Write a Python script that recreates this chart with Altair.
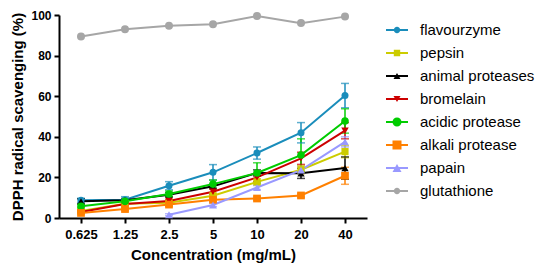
import math
import altair as alt
import pandas as pd

conc_labels = ["0.625", "1.25", "2.5", "5", "10", "20", "40"]
series_names = ["flavourzyme", "pepsin", "animal proteases", "bromelain",
                "acidic protease", "alkali protease", "papain", "glutathione"]

flavourzyme = [8.7, 9.0, 15.9, 22.5, 32.0, 42.0, 60.3]
flavourzyme_err = [1.0, 1.5, 2.0, 3.8, 3.0, 5.0, 6.0]
pepsin = [3.5, 7.0, 7.5, 11.0, 17.8, 23.8, 32.7]
pepsin_err = [0.5, 0.5, 0.8, 1.0, 1.5, 2.0, 3.0]
animal = [8.2, 8.8, 11.5, 15.6, 22.2, 22.0, 24.6]
animal_err = [1.2, 0.8, 1.0, 1.0, 1.5, 2.5, 5.5]
bromelain = [3.0, 6.9, 8.4, 12.9, 20.0, 29.4, 43.0]
bromelain_err = [0.5, 0.5, 0.8, 1.5, 2.0, 3.0, 4.0]
acidic = [5.8, 8.2, 11.8, 16.7, 22.2, 31.0, 47.8]
acidic_err = [0.8, 1.0, 1.5, 2.0, 5.0, 8.0, 6.0]
alkali = [2.5, 4.4, 6.6, 9.0, 9.6, 11.1, 20.8]
alkali_err = [0.5, 0.8, 0.8, 0.8, 0.8, 0.8, 4.2]
papain = [None, None, 1.6, 6.4, 15.0, 23.6, 37.5]
papain_err = [0, 0, 0.5, 0.8, 1.0, 1.5, 2.5]
glutathione = [89.4, 93.0, 94.7, 95.4, 99.5, 96.0, 99.2]
glutathione_err = [0, 0, 0, 0, 0, 0, 0]

colors = ["#1A8DBB", "#CCCC00", "#000000", "#CC0000",
          "#00CC00", "#FF8000", "#9999FF", "#A6A6A6"]
plot_shapes = ["circle", "square", "triangle-up", "triangle-down",
               "circle", "square", "triangle-up", "circle"]
plot_sizes = [49, 64, 49, 49, 100, 100, 100, 36]

values = [flavourzyme, pepsin, animal, bromelain, acidic, alkali, papain, glutathione]
errors = [flavourzyme_err, pepsin_err, animal_err, bromelain_err,
          acidic_err, alkali_err, papain_err, glutathione_err]

rows = []
for name, vals, errs in zip(series_names, values, errors):
    for c, v, e in zip(conc_labels, vals, errs):
        if v is None:
            continue
        rows.append({"series": name, "lg": name, "conc": c, "val": v,
                     "err": e, "lo": v - e, "hi": v + e})
df = pd.DataFrame(rows)

# legend glyphs: line segment + marker, in units of 11 px (symbol size 484)
U = 11.0
def rect_line():
    t = 1.0 / U
    return f"M-1,{-t:.4f}H1V{t:.4f}H-1Z"
def circ(r):
    r = r / U
    pts = []
    for i in range(16):
        a = 2 * math.pi * i / 16
        pts.append(f"{r*math.cos(a):.4f},{r*math.sin(a):.4f}")
    return "M" + "L".join(pts) + "Z"
def sq(h):
    h = h / U
    return f"M{-h:.4f},{-h:.4f}H{h:.4f}V{h:.4f}H{-h:.4f}Z"
def tri_up(w, h):
    a = w / 2 / U; b = h / 2 / U
    return f"M0,{-b:.4f}L{a:.4f},{b:.4f}L{-a:.4f},{b:.4f}Z"
def tri_down(w, h):
    a = w / 2 / U; b = h / 2 / U
    return f"M{-a:.4f},{-b:.4f}L{a:.4f},{-b:.4f}L0,{b:.4f}Z"

legend_paths = [
    rect_line() + circ(3.2),
    rect_line() + sq(3.2),
    rect_line() + tri_up(7, 6),
    rect_line() + tri_down(7, 6),
    rect_line() + circ(4.5),
    rect_line() + sq(4.5),
    rect_line() + tri_up(9, 8),
    rect_line() + circ(3.2),
]

FONT = "Liberation Sans"

x_enc = alt.X("conc:N", sort=conc_labels,
              scale=alt.Scale(type="point", padding=0.5),
              axis=alt.Axis(title="Concentration (mg/mL)", labelAngle=0))
y_scale = alt.Scale(domain=[0, 100], nice=False)
y_axis = alt.Axis(title="DPPH radical scavenging (%)", values=[0, 20, 40, 60, 80, 100],
                  titleX=-34, titleY=101.5, titleAngle=-90, titleAlign="center",
                  titleBaseline="bottom")
col_scale = alt.Scale(domain=series_names, range=colors)

base = alt.Chart(df)

err_rules = base.transform_filter("datum.err > 0").mark_rule(strokeWidth=1.5).encode(
    x=x_enc,
    y=alt.Y("lo:Q", scale=y_scale, axis=y_axis),
    y2="hi:Q",
    color=alt.Color("series:N", scale=col_scale, legend=None),
)
caps = base.transform_filter("datum.err > 0").transform_fold(
    ["lo", "hi"], as_=["k", "v"]
).mark_tick(size=8, thickness=1.5).encode(
    x=x_enc,
    y=alt.Y("v:Q", scale=y_scale),
    color=alt.Color("series:N", scale=col_scale, legend=None),
)
lines = base.mark_line(strokeWidth=2).encode(
    x=x_enc,
    y=alt.Y("val:Q", scale=y_scale),
    color=alt.Color("series:N", scale=col_scale, legend=None),
)
points = base.mark_point(filled=True, opacity=1).encode(
    x=x_enc,
    y=alt.Y("val:Q", scale=y_scale),
    color=alt.Color("series:N", scale=col_scale, legend=None),
    shape=alt.Shape("series:N", scale=alt.Scale(domain=series_names, range=plot_shapes), legend=None),
    size=alt.Size("series:N", scale=alt.Scale(domain=series_names, range=plot_sizes), legend=None),
)
legend_kw = dict(title=None, orient="none", legendX=327, legendY=4, padding=0,
                 symbolSize=484, symbolStrokeWidth=0, symbolOpacity=1,
                 labelFont=FONT, labelFontSize=15, labelColor="#000000",
                 labelOffset=12, rowPadding=4, labelLimit=300)
legend_layer = base.mark_point(filled=True, opacity=0, size=484).encode(
    x=x_enc,
    y=alt.Y("val:Q", scale=y_scale),
    color=alt.Color("lg:N", scale=col_scale, sort=series_names, legend=alt.Legend(**legend_kw)),
    shape=alt.Shape("lg:N", scale=alt.Scale(domain=series_names, range=legend_paths),
                    sort=series_names, legend=alt.Legend(**legend_kw)),
)

chart = alt.layer(err_rules, caps, lines, points, legend_layer).resolve_scale(
    color="independent", shape="independent"
).properties(
    width=308, height=203,
    autosize=alt.AutoSizeParams(type="none"),
    padding={"left": 51, "top": 7, "right": 172, "bottom": 46},
).configure_view(stroke=None).configure_axis(
    grid=False,
    domainColor="#000000", domainWidth=2,
    tickColor="#000000", tickWidth=2, tickSize=5,
    labelFont=FONT, labelFontWeight="bold", labelColor="#000000",
    titleFont=FONT, titleFontWeight="bold", titleColor="#000000", titleFontSize=15,
).configure_axisX(
    labelFontSize=13, labelPadding=5, titlePadding=6,
).configure_axisY(
    labelFontSize=12, labelPadding=3,
)

chart.save("out.html", embed_options={"renderer": "svg", "actions": False})
